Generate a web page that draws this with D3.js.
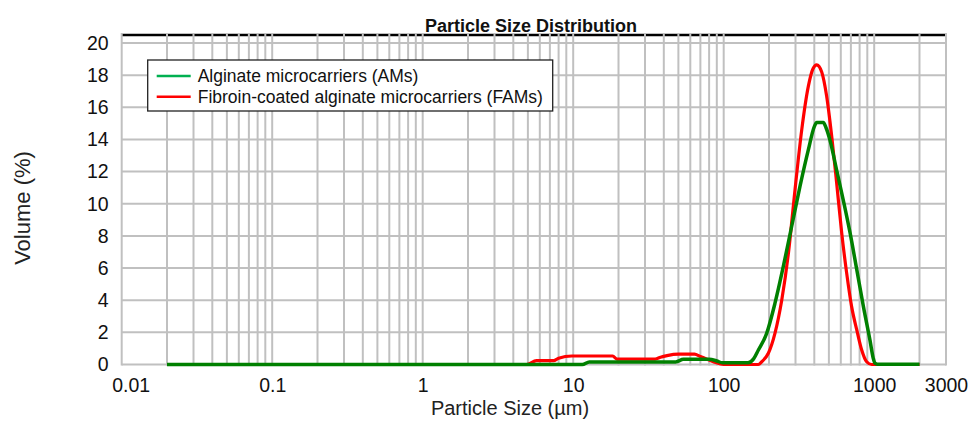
<!DOCTYPE html>
<html>
<head>
<meta charset="utf-8">
<script src="https://cdn.jsdelivr.net/npm/d3@7"></script>
<style>
  body { margin: 0; background: #fff; }
  svg text { font-family: Arial, "Liberation Sans", sans-serif; }
</style>
</head>
<body>
<div id="chart-area"></div>
<script>
'use strict';

// x ticks (µm) and y ticks (%)
let sizeTicks = [0.01, 0.1, 1, 10, 100, 1000, 3000];
let sizeLabels = ['0.01', '0.1', '1', '10', '100', '1000', '3000'];
let volTicks = [0, 2, 4, 6, 8, 10, 12, 14, 16, 18, 20];

let seriesNames = ['Alginate microcarriers (AMs)', 'Fibroin-coated alginate microcarriers (FAMs)'];

// AMs
let amSize = [0.02, 11.5, 12.8, 48, 54, 80, 90, 98, 145, 158, 170, 193, 219, 249, 283, 321, 365, 400, 415, 459, 480, 508, 563, 624, 691, 766, 848, 938, 985, 1012, 1050, 2000];
let amVol = [0, 0, 0.16, 0.16, 0.32, 0.32, 0.22, 0.11, 0.11, 0.35, 0.9, 1.94, 3.8, 6.1, 8.6, 11.06, 13.35, 14.8, 15.05, 15.05, 14.7, 13.97, 12.1, 10.2, 8.2, 5.9, 3.6, 1.5, 0.4, 0.08, 0.02, 0.02];

// FAMs
let famSize = [0.02, 4.9, 5.7, 7.4, 8.0, 9.8, 18.3, 19.5, 35, 38, 42, 50, 64, 70, 78, 86, 95, 105, 170, 179, 198, 219, 243, 269, 298, 330, 365, 392, 415, 448, 483, 522, 563, 608, 656, 708, 766, 826, 891, 962, 2000];
let famVol = [0, 0, 0.24, 0.24, 0.39, 0.53, 0.53, 0.34, 0.34, 0.45, 0.55, 0.64, 0.64, 0.5, 0.32, 0.15, 0.04, 0, 0, 0.17, 0.7, 1.94, 4.0, 6.9, 10.9, 14.6, 17.3, 18.4, 18.64, 18.2, 16.7, 14.2, 11.3, 8.2, 5.7, 3.6, 2.15, 0.9, 0.17, 0, 0];

draw();

function draw() {
    let svg = d3.select('#chart-area').append('svg')
        .attr('width', 971)
        .attr('height', 428);

    let x = d3.scaleLog()
        .domain([0.01, 3000])
        .range([121.7, 946]);

    let y = d3.scaleLinear()
        .domain([0, 20.5])
        .range([364.5, 35]);

    let gridColour = '#c0c0c0';

    // top border
    svg.append('line')
        .attr('x1', x(0.01)).attr('x2', x(3000))
        .attr('y1', y(20.5)).attr('y2', y(20.5))
        .attr('stroke', '#000')
        .attr('stroke-width', 2.5);

    // horizontal grid
    svg.selectAll('.hgrid')
        .data(volTicks)
        .enter()
        .append('line')
            .attr('class', 'hgrid')
            .attr('x1', x(0.01))
            .attr('x2', x(3000))
            .attr('y1', (d) => y(d))
            .attr('y2', (d) => y(d))
            .attr('stroke', gridColour)
            .attr('stroke-width', 2);

    // vertical grid, 1..9 per decade
    let minor = x.ticks().concat([3000]).filter((d, i, a) => a.indexOf(d) === i);
    svg.selectAll('.vgrid')
        .data(minor)
        .enter()
        .append('line')
            .attr('class', 'vgrid')
            .attr('x1', (d) => x(d))
            .attr('x2', (d) => x(d))
            .attr('y1', y(0) + 1)
            .attr('y2', y(20.5) - 2)
            .attr('stroke', gridColour)
            .attr('stroke-width', 2);

    // axes
    let xAxis = svg.append('g')
        .attr('transform', 'translate(0,' + y(0) + ')')
        .call(d3.axisBottom(x)
            .tickValues(sizeTicks)
            .tickFormat((d, i) => sizeLabels[i])
            .tickSize(0)
            .tickPadding(14));
    xAxis.select('.domain').remove();
    xAxis.selectAll('text')
        .attr('font-size', 19.5)
        .attr('fill', '#111')
        .attr('dx', (d, i) => i === 0 ? 9 : 0);

    let yAxis = svg.append('g')
        .attr('transform', 'translate(' + x(0.01) + ',0)')
        .call(d3.axisLeft(y)
            .tickValues(volTicks)
            .tickSize(0)
            .tickPadding(13));
    yAxis.select('.domain').remove();
    yAxis.selectAll('text')
        .attr('font-size', 19.5)
        .attr('fill', '#111');

    // curves
    let line = d3.line()
        .x((d) => x(d[0]))
        .y((d) => y(d[1]))
        .curve(d3.curveMonotoneX);

    let famData = famSize.map((s, i) => [s, famVol[i]]);
    let amData = amSize.map((s, i) => [s, amVol[i]]);

    svg.append('path')
        .datum(famData)
        .attr('d', line)
        .attr('fill', 'none')
        .attr('stroke', '#ff0000')
        .attr('stroke-width', 3.2)
        .attr('stroke-linejoin', 'round');

    svg.append('path')
        .datum(amData)
        .attr('d', line)
        .attr('fill', 'none')
        .attr('stroke', '#008000')
        .attr('stroke-width', 3.5)
        .attr('stroke-linejoin', 'round');

    // title
    svg.append('text')
        .attr('x', 531)
        .attr('y', 32)
        .attr('text-anchor', 'middle')
        .attr('font-size', 18)
        .attr('font-weight', 'bold')
        .attr('fill', '#111')
        .text('Particle Size Distribution');

    // axis titles
    svg.append('text')
        .attr('x', 510)
        .attr('y', 415)
        .attr('text-anchor', 'middle')
        .attr('font-size', 20)
        .attr('fill', '#222')
        .text('Particle Size (\u00b5m)');

    svg.append('text')
        .attr('transform', 'translate(30,208) rotate(-90)')
        .attr('text-anchor', 'middle')
        .attr('font-size', 22)
        .attr('fill', '#222')
        .text('Volume (%)');

    // legend
    let legend = svg.append('g');
    legend.append('rect')
        .attr('x', 147.7)
        .attr('y', 60)
        .attr('width', 405)
        .attr('height', 51)
        .attr('fill', '#fff')
        .attr('stroke', '#222')
        .attr('stroke-width', 1.3);

    let legendColours = ['#00b050', '#ff0000'];
    let rows = legend.selectAll('.row')
        .data(seriesNames)
        .enter()
        .append('g')
            .attr('class', 'row')
            .attr('transform', (d, i) => 'translate(0,' + (76 + i * 20.7) + ')');
    rows.append('line')
        .attr('x1', 156.7).attr('x2', 190.7)
        .attr('stroke', (d, i) => legendColours[i])
        .attr('stroke-width', 2.5);
    rows.append('text')
        .attr('x', 197.7)
        .attr('y', 6)
        .attr('font-size', 17.5)
        .attr('fill', '#111')
        .text((d) => d);
}
</script>
</body>
</html>
